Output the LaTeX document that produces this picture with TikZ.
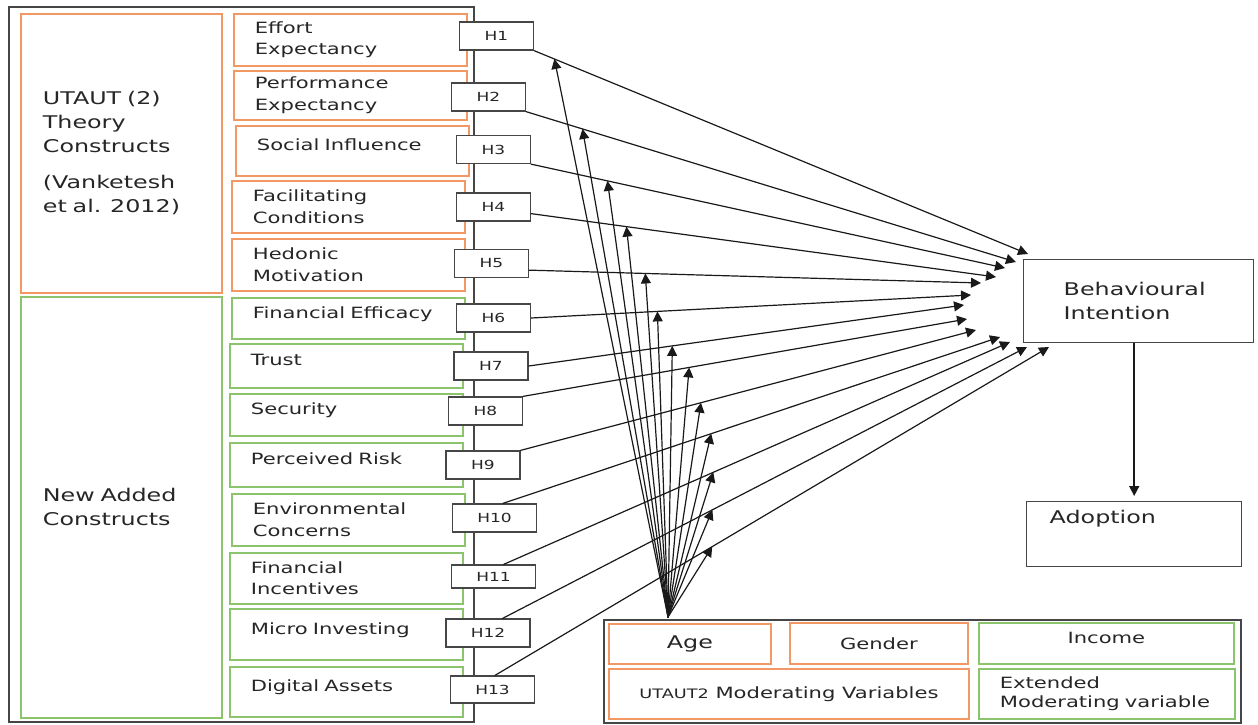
\documentclass[tikz,border=0pt]{standalone}
\usepackage{fontspec}
\setmainfont{DejaVu Sans}[FakeStretch=1.36]
\usetikzlibrary{arrows.meta,positioning}
\definecolor{utorange}{RGB}{241,152,100}
\definecolor{newgreen}{RGB}{140,196,110}
\definecolor{boxgray}{RGB}{70,70,70}

\begin{document}
\begin{tikzpicture}[
    x=1pt, y=-1pt, >={Triangle[length=10pt,width=10pt]}, line cap=round,
    grp/.style  ={draw=#1, line width=1.8pt, anchor=north west, align=left, inner xsep=22pt, text width=157pt, text=black!85, font=\fontsize{17.5}{24}\selectfont},
    cons/.style ={draw=#1, line width=1.8pt, anchor=north west, align=left, inner xsep=21pt, text width=191pt, text=black!85, font=\fontsize{15.5}{21.5}\selectfont},
    oneln/.style={text height=11pt, text depth=11pt},
    hyp/.style  ={draw=boxgray, fill=white, line width=1.3pt, minimum width=74pt, minimum height=28pt, inner sep=0pt, text=black!85, font=\fontsize{12.5}{12.5}\selectfont},
    outc/.style ={draw=boxgray, line width=1.4pt, anchor=north west, align=left, text=black!85, font=\fontsize{17.5}{24}\selectfont},
    modv/.style ={draw=#1, line width=1.8pt, anchor=north west, text=black!85, font=\fontsize{15.5}{19}\selectfont},
    arr/.style  ={->, line width=1.2pt, black!90}
]
\useasboundingbox (0,0) rectangle (1258,724);

% left frame
\draw[boxgray, line width=1.8pt] (9,7) rectangle (474,722);
\node[grp=utorange, minimum width=201pt, minimum height=279pt] (utaut) at (20,13)
  {UTAUT (2)\\Theory\\Constructs\\[12pt](Vanketesh\\et al. 2012)};
\node[grp=newgreen, minimum width=201pt, minimum height=421pt] (newc) at (20,296)
  {New Added\\Constructs};

% UTAUT2 constructs
\node[cons=utorange, minimum height=52pt] (ee) at (233,13) {Effort\\Expectancy};
\node[cons=utorange, minimum height=49pt] (pe) at (233,70) {Performance\\Expectancy};
\node[cons=utorange, minimum height=50pt, oneln] (si) at (235,125) {Social Influence};
\node[cons=utorange, minimum height=52pt] (fc) at (231,180) {Facilitating\\Conditions};
\node[cons=utorange, minimum height=52pt] (hm) at (231,238) {Hedonic\\Motivation};

% new constructs
\node[cons=newgreen, minimum height=41pt, oneln] (fe) at (231,297) {Financial Efficacy};
\node[cons=newgreen, minimum height=44pt, oneln] (tr) at (229,343) {Trust};
\node[cons=newgreen, minimum height=42pt, oneln] (se) at (229,393) {Security};
\node[cons=newgreen, minimum height=44pt, oneln] (pr) at (229,442) {Perceived Risk};
\node[cons=newgreen, minimum height=52pt] (ec) at (231,493) {Environmental\\Concerns};
\node[cons=newgreen, minimum height=51pt] (fi) at (229,552) {Financial\\Incentives};
\node[cons=newgreen, minimum height=51pt, oneln] (mi) at (229,608) {Micro Investing};
\node[cons=newgreen, minimum height=50pt, oneln] (da) at (229,666) {Digital Assets};

% hypotheses
\node[hyp] (h1) at (496.5,36) {H1};
\node[hyp] (h2) at (488.5,97) {H2};
\node[hyp] (h3) at (493.5,149.5) {H3};
\node[hyp] (h4) at (493.5,207) {H4};
\node[hyp] (h5) at (491.5,263.5) {H5};
\node[hyp] (h6) at (493.5,318) {H6};
\node[hyp] (h7) at (491,366) {H7};
\node[hyp] (h8) at (485.5,411) {H8};
\node[hyp] (h9) at (483,465) {H9};
\node[hyp, minimum width=84pt] (h10) at (494.5,518) {H10};
\node[hyp, minimum width=84pt, minimum height=23pt] (h11) at (493.5,576.5) {H11};
\node[hyp, minimum width=84pt] (h12) at (488,633) {H12};
\node[hyp, minimum width=84pt, minimum height=27pt] (h13) at (492.5,689.5) {H13};

% outcomes
\node[outc, minimum width=230pt, minimum height=83pt, text width=150pt, inner xsep=40pt] (bi) at (1023,259)
  {Behavioural\\Intention};
\node[outc, minimum width=215pt, minimum height=65pt, text width=169pt, inner xsep=23pt, text height=12pt, text depth=33pt] (ado) at (1026,501)
  {Adoption};
\draw[arr, line width=1.5pt] (bi.south -| ado.north) -- ([yshift=5pt]ado.north);

% moderators
\node[draw=boxgray, line width=1.6pt, minimum width=637pt, minimum height=103pt, anchor=north west] (mods) at (603,619) {};
\node[modv=utorange, minimum width=162pt, minimum height=40pt, font=\fontsize{17.5}{20}\selectfont] (age) at (608,623) {Age};
\node[modv=utorange, minimum width=178pt, minimum height=41pt] (gen) at (789,622) {Gender};
\node[modv=newgreen, minimum width=255pt, minimum height=41pt, oneln] (inc) at (978,622) {Income};
\node[modv=utorange, minimum width=360pt, minimum height=50pt] (utv) at (608,668)
  {{\fontsize{13}{13}\selectfont UTAUT2} Moderating Variables};
\node[modv=newgreen, minimum width=256pt, minimum height=50pt, align=left, text width=214pt, inner xsep=21pt] (ext) at (978,668)
  {Extended\\Moderating variable};
\coordinate (fan) at (668,617);

% hypothesis paths to BI
\foreach \i/\x/\y in {1/1028/254, 2/1016/262, 3/1005/268, 4/996/277, 5/981/283, 6/971/295, 7/964/305,
                      8/967/319, 9/976/330, 10/1000/337, 11/1010/342, 12/1027/347, 13/1049/347}
  \coordinate (e\i) at (\x,\y);
\foreach \i/\a/\p in {1/south east/.041, 2/south east/.115, 3/south east/.161, 4/-10/.205, 5/-10/.257,
                      6/east/.287, 7/east/.33, 8/north east/.374, 9/north east/.396,
                      10/60/.419, 11/50/.414, 12/45/.4, 13/80/.392}
  \draw[arr] (h\i.\a) -- coordinate[pos=\p] (m\i) (e\i);

% moderating effects
\foreach \i in {1,...,13}
  \draw[arr] (fan) -- (m\i);
\end{tikzpicture}
\end{document}
